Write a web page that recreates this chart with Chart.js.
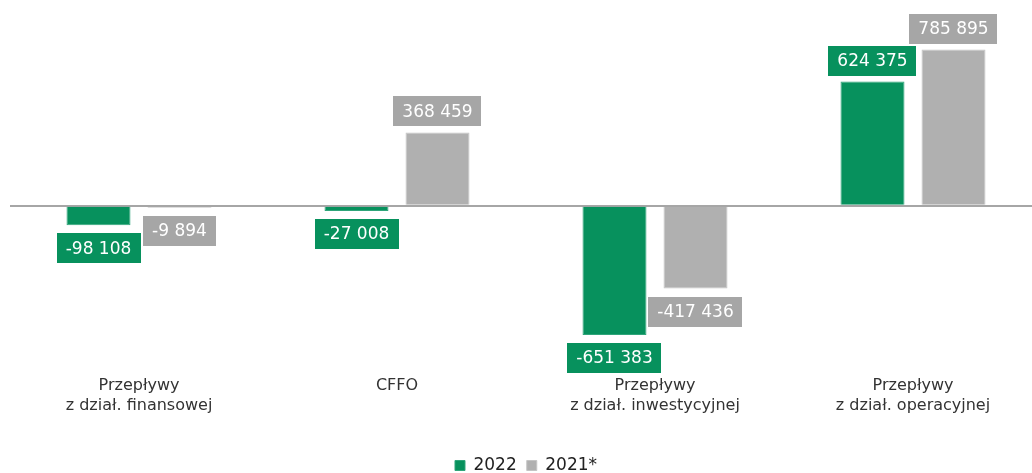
<!DOCTYPE html>
<html>
<head>
<meta charset="utf-8">
<script src="https://cdn.jsdelivr.net/npm/chart.js@4"></script>
<style>
  html, body { margin: 0; padding: 0; background: #fff; overflow: hidden; }
  #wrap { width: 1044px; height: 473px; }
</style>
</head>
<body>
<div id="wrap"><canvas id="cashflowChart" width="1044" height="473"></canvas></div>
<script>
const categories = [
  ['Przepływy', 'z dział. finansowej'],
  'CFFO',
  ['Przepływy', 'z dział. inwestycyjnej'],
  ['Przepływy', 'z dział. operacyjnej']
];
const values2022 = [-98108, -27008, -651383, 624375];
const values2021 = [-9894, 368459, -417436, 785895];
const seriesNames = ['2022', '2021*'];

const GREEN = '#07915d';
const GREY = '#b0b0b0';
const GREY_LABEL = '#a6a6a6';

function fmt(v) {
  const s = Math.abs(v).toString().replace(/\B(?=(\d{3})+(?!\d))/g, ' ');
  return (v < 0 ? '-' : '') + s;
}

// value labels in filled boxes above / below the bars
const boxLabels = {
  id: 'boxLabels',
  afterDatasetsDraw(chart) {
    const ctx = chart.ctx;
    ctx.save();
    ctx.font = '17px "DejaVu Sans"';
    ctx.textAlign = 'center';
    ctx.textBaseline = 'middle';
    chart.data.datasets.forEach((ds, i) => {
      const meta = chart.getDatasetMeta(i);
      meta.data.forEach((el, j) => {
        const v = ds.data[j];
        const txt = fmt(v);
        const w = ctx.measureText(txt).width + 18;
        const h = 30;
        const top = v >= 0 ? el.y - 6 - h : el.y + 8;
        ctx.fillStyle = ds.labelColor;
        ctx.fillRect(Math.round(el.x - w / 2), Math.round(top), Math.round(w), h);
        ctx.fillStyle = '#ffffff';
        ctx.fillText(txt, el.x, top + h / 2 + 1);
      });
    });
    ctx.restore();
  }
};

new Chart(document.getElementById('cashflowChart'), {
  type: 'bar',
  data: {
    labels: categories,
    datasets: [
      {
        label: seriesNames[0],
        data: values2022,
        backgroundColor: GREEN,
        borderColor: '#2fa57a',
        borderWidth: 1,
        labelColor: GREEN,
        barPercentage: 0.79,
        categoryPercentage: 0.628
      },
      {
        label: seriesNames[1],
        data: values2021,
        backgroundColor: GREY,
        borderColor: '#c4c4c4',
        borderWidth: 1,
        labelColor: GREY_LABEL,
        barPercentage: 0.79,
        categoryPercentage: 0.628
      }
    ]
  },
  options: {
    responsive: false,
    animation: false,
    layout: { padding: { left: 10, right: 2, top: 7, bottom: -11 } },
    plugins: {
      tooltip: { enabled: false },
      legend: {
        position: 'bottom',
        labels: {
          boxWidth: 10,
          boxHeight: 10,
          padding: 10,
          color: '#222',
          font: { family: 'DejaVu Sans', size: 17, lineHeight: 1.0 }
        }
      }
    },
    scales: {
      x: {
        grid: { display: false, drawTicks: false },
        border: { display: false },
        ticks: {
          color: '#333',
          padding: 12,
          font: { family: 'DejaVu Sans', size: 16 }
        },
        afterFit: s => { s.height += 20; }
      },
      y: {
        min: -800000,
        max: 1000000,
        border: { display: false },
        ticks: { display: false, stepSize: 100000 },
        grid: {
          color: c => c.tick.value === 0 ? '#a6a6a6' : 'transparent',
          lineWidth: 2,
          drawTicks: false
        }
      }
    }
  },
  plugins: [boxLabels]
});
</script>
</body>
</html>
